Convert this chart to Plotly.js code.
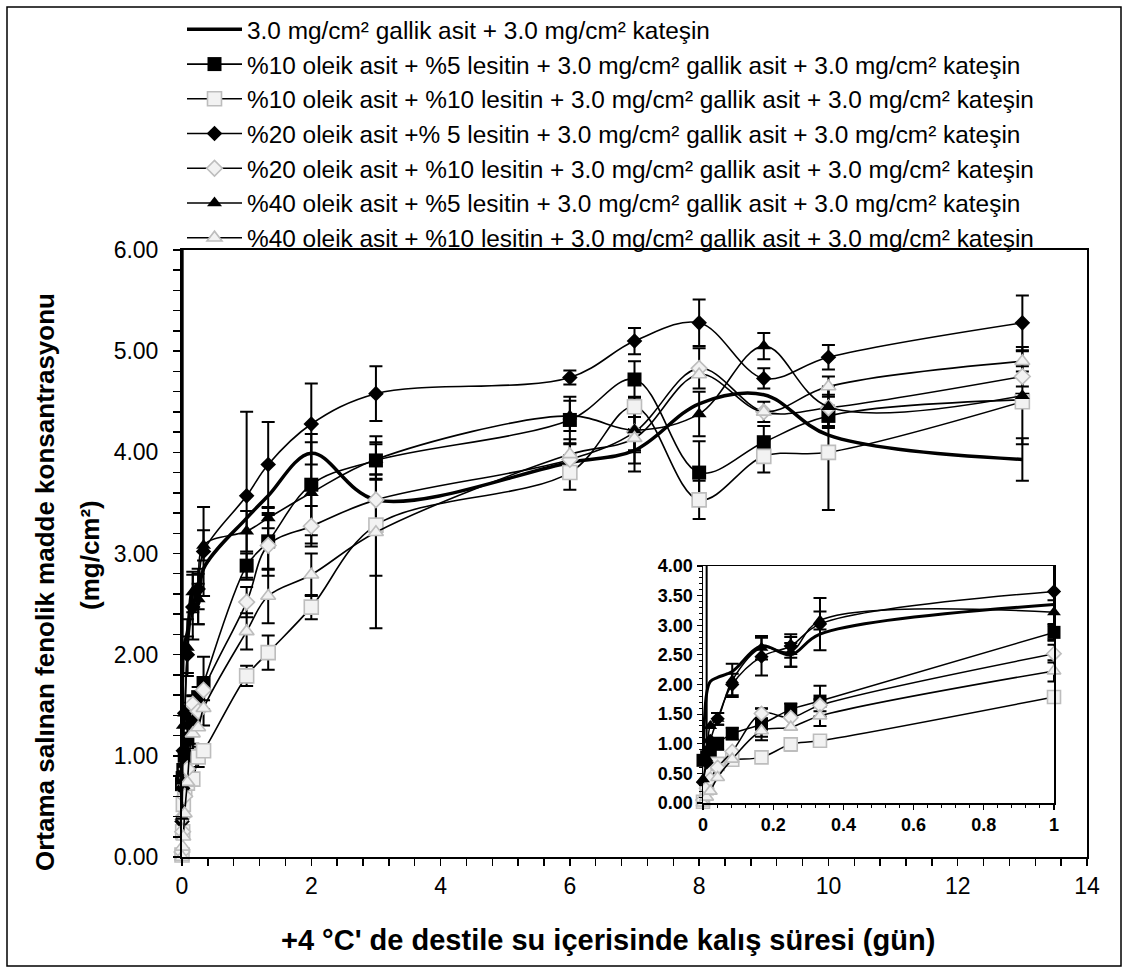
<!DOCTYPE html>
<html>
<head>
<meta charset="utf-8">
<script src="https://cdn.plot.ly/plotly-3.0.1.min.js"></script>
<style>html,body{margin:0;padding:0;background:#fff;}</style>
</head>
<body>
<div id="chart" style="width:1129px;height:974px;"></div>
<script>
// ---- data (days in distilled water at +4 °C) ----
const days = [0, 0.0104, 0.0208, 0.0417, 0.0833, 0.1667, 0.25, 0.3333, 1, 1.3333, 2, 3, 6, 7, 8, 9, 10, 13];

const seriesNames = [
  "3.0 mg/cm² gallik asit + 3.0 mg/cm² kateşin",
  "%10 oleik asit + %5 lesitin + 3.0 mg/cm² gallik asit + 3.0 mg/cm² kateşin",
  "%10 oleik asit + %10 lesitin + 3.0 mg/cm² gallik asit + 3.0 mg/cm² kateşin",
  "%20 oleik asit +% 5 lesitin + 3.0 mg/cm² gallik asit + 3.0 mg/cm² kateşin",
  "%20 oleik asit + %10 lesitin + 3.0 mg/cm² gallik asit + 3.0 mg/cm² kateşin",
  "%40 oleik asit + %5 lesitin + 3.0 mg/cm² gallik asit + 3.0 mg/cm² kateşin",
  "%40 oleik asit + %10 lesitin + 3.0 mg/cm² gallik asit + 3.0 mg/cm² kateşin"
];

const gallikKatesin   = [0.70, 1.85, 2.05, 2.12, 2.22, 2.65, 2.50, 2.85, 3.35, 3.57, 3.99, 3.53, 3.90, 4.02, 4.48, 4.57, 4.17, 3.93];
const gallikKatesinSd = [0.15, 4.30, 0, 0, 0, 0, 0.20, 0, 0, 0, 0, 0, 0, 0.21, 0, 0, 0, 0.21];

const ol10le5   = [0.72, 0.78, 0.86, 1.00, 1.17, 1.33, 1.58, 1.72, 2.88, 3.12, 3.68, 3.92, 4.32, 4.72, 3.80, 4.10, 4.36, 4.52];
const ol10le5Sd = [0, 0, 0, 0.10, 0.10, 0.27, 0.10, 0.26, 0.12, 0.28, 0.50, 0.18, 0.23, 0.18, 0.31, 0.16, 0.10, 0];

const ol10le10   = [0.02, 0.25, 0.52, 0.66, 0.73, 0.77, 0.99, 1.05, 1.79, 2.02, 2.47, 3.28, 3.80, 4.45, 3.53, 3.96, 4.00, 4.50];
const ol10le10Sd = [0, 0, 0, 0, 0, 0.05, 0.10, 0.05, 0.10, 0.17, 0.12, 0.50, 0.17, 0.10, 0.19, 0.16, 0.57, 0];

const ol20le5   = [0.35, 0.68, 1.05, 1.42, 2.00, 2.47, 2.65, 3.02, 3.57, 3.88, 4.28, 4.58, 4.74, 5.10, 5.28, 4.73, 4.94, 5.28];
const ol20le5Sd = [0, 0, 0, 0.10, 0.18, 0.32, 0.20, 0.44, 0.83, 0.42, 0.40, 0.27, 0.07, 0.13, 0.23, 0.10, 0.12, 0.27];

const ol20le10   = [0.05, 0.25, 0.40, 0.60, 0.87, 1.51, 1.44, 1.65, 2.52, 3.08, 3.27, 3.53, 3.93, 4.20, 4.83, 4.40, 4.44, 4.75];
const ol20le10Sd = [0, 0, 0, 0, 0, 0.08, 0, 0.10, 0.15, 0.30, 0.20, 0.20, 0.15, 0.20, 0.20, 0, 0.20, 0.10];

const ol40le5   = [0.40, 0.75, 1.30, 1.42, 2.07, 2.62, 2.55, 3.08, 3.22, 3.35, 3.60, 3.93, 4.36, 4.22, 4.38, 5.05, 4.45, 4.56];
const ol40le5Sd = [0, 0, 0, 0.10, 0.28, 0.20, 0.25, 0.15, 0.20, 0.10, 0.50, 0.15, 0.15, 0.20, 0.22, 0.13, 0.20, 0.48];

const ol40le10   = [0.00, 0.10, 0.20, 0.43, 0.74, 1.22, 1.28, 1.47, 2.23, 2.58, 2.79, 3.21, 3.98, 4.14, 4.77, 4.40, 4.65, 4.90];
const ol40le10Sd = [0, 0, 0, 0, 0, 0.10, 0, 0.17, 0.18, 0.27, 0.21, 0.95, 0.15, 0.25, 0, 0.10, 0.10, 0.10];

const xTitle = "+4 °C' de destile su içerisinde kalış süresi (gün)";
const yTitle1 = "Ortama salınan fenolik madde konsantrasyonu";
const yTitle2 = "(mg/cm²)";

// ---- styles ----
const FONT = 'Arial, "Liberation Sans", sans-serif';
const GRAYFILL = '#f2f2f2', GRAYLINE = '#bdbdbd';
const styles = [
  {vals: gallikKatesin, sd: gallikKatesinSd, mode: 'lines', width: 3.5, marker: null},
  {vals: ol10le5,  sd: ol10le5Sd,  mode: 'lines+markers', width: 1.6, marker: {symbol: 'square', size: 14, color: 'black'}},
  {vals: ol10le10, sd: ol10le10Sd, mode: 'lines+markers', width: 1.6, marker: {symbol: 'square', size: 14, color: GRAYFILL, line: {color: GRAYLINE, width: 1.6}}},
  {vals: ol20le5,  sd: ol20le5Sd,  mode: 'lines+markers', width: 1.6, marker: {symbol: 'diamond', size: 12, color: 'black'}},
  {vals: ol20le10, sd: ol20le10Sd, mode: 'lines+markers', width: 1.6, marker: {symbol: 'diamond', size: 12, color: GRAYFILL, line: {color: GRAYLINE, width: 1.6}}},
  {vals: ol40le5,  sd: ol40le5Sd,  mode: 'lines+markers', width: 1.6, marker: {symbol: 'triangle-up', size: 13, color: 'black'}},
  {vals: ol40le10, sd: ol40le10Sd, mode: 'lines+markers', width: 1.6, marker: {symbol: 'triangle-up', size: 13, color: GRAYFILL, line: {color: GRAYLINE, width: 1.6}}}
];

const traces = [];
const noZero = a => a.map(v => (v > 0 ? v : NaN));

// error bars (clipped) on base axes: main (x,y) and inset (x2,y2)
[['x', 'y'], ['x2', 'y2']].forEach(([xa, ya]) => {
  styles.forEach(s => {
    traces.push({
      x: days, y: s.vals, xaxis: xa, yaxis: ya, type: 'scatter', mode: 'markers',
      marker: {size: 2, opacity: 0}, showlegend: false, hoverinfo: 'skip',
      error_y: {type: 'data', array: noZero(s.sd), visible: true, color: 'black', thickness: 2, width: 6.5}
    });
  });
});

// visible lines+markers on overlay axes (markers not clipped)
styles.forEach((s, i) => {
  const t = {
    x: days, y: s.vals, xaxis: 'x3', yaxis: 'y3', type: 'scatter', mode: s.mode,
    name: seriesNames[i], cliponaxis: false,
    line: {color: 'black', width: s.width, shape: 'spline', smoothing: 1}
  };
  if (s.marker) t.marker = s.marker;
  traces.push(t);
});
styles.forEach((s, i) => {
  const keep = days.map((d, j) => j).filter(j => days[j] <= 1);
  const t = {
    x: keep.map(j => days[j]), y: keep.map(j => s.vals[j]), xaxis: 'x4', yaxis: 'y4', type: 'scatter', mode: s.mode,
    name: seriesNames[i], cliponaxis: false, showlegend: false,
    line: {color: 'black', width: s.width === 3.5 ? 3 : 1.5, shape: 'spline', smoothing: 1}
  };
  if (s.marker) t.marker = Object.assign({}, s.marker, {size: s.marker.size - 1});
  traces.push(t);
});

// ---- layout ----
const L = 182, R = 1087, T = 250, B = 857, W = 1129, H = 974;
const pw = R - L, ph = B - T;
const px = v => (v - L) / pw, py = v => (B - v) / ph;
const inX = [px(703), px(1054)], inY = [py(803), py(566)];

const mainAxis = {
  showline: true, linecolor: 'black', linewidth: 2, mirror: true,
  ticks: 'outside', ticklen: 7, tickwidth: 1.5, tickcolor: 'black',
  showgrid: false, zeroline: false, tickfont: {family: FONT, size: 23, color: 'black'}
};
const insetAxis = {
  showline: true, linecolor: 'black', linewidth: 1.5, mirror: true,
  ticks: 'outside', ticklen: 5, tickwidth: 1.2, tickcolor: 'black',
  showgrid: false, zeroline: false, tickfont: {family: FONT, size: 18, color: 'black', weight: 'bold'}
};
const titleFont = size => ({family: FONT, size: size, color: 'black', weight: 'bold'});

const layout = {
  width: W, height: H,
  margin: {l: L, r: W - R, t: T, b: H - B, autoexpand: false},
  paper_bgcolor: 'white', plot_bgcolor: 'white',
  font: {family: FONT, color: 'black'},
  showlegend: true,
  legend: {x: 0, xanchor: 'left', y: py(7), yanchor: 'top', bgcolor: 'rgba(0,0,0,0)',
           font: {family: FONT, size: 24.4, color: 'black'}, itemwidth: 55, tracegroupgap: 0},
  xaxis: Object.assign({}, mainAxis, {
    domain: [0, 1], anchor: 'y', range: [0, 14], autorange: false, dtick: 2, tick0: 0,
    minor: {dtick: 0.4, ticks: 'outside', ticklen: 7, tickwidth: 1.5, tickcolor: 'black', showgrid: false}
  }),
  yaxis: Object.assign({}, mainAxis, {
    domain: [0, 1], anchor: 'x', range: [0, 6], autorange: false, dtick: 1, tick0: 0, tickformat: '.2f',
    ticklabelstandoff: 10,
    minor: {dtick: 0.2, ticks: 'outside', ticklen: 7, tickwidth: 1.5, tickcolor: 'black', showgrid: false}
  }),
  xaxis3: {domain: [0, 1], anchor: 'y3', overlaying: 'x', range: [0, 14], autorange: false, visible: false},
  yaxis3: {domain: [0, 1], anchor: 'x3', overlaying: 'y', range: [0, 6], autorange: false, visible: false},
  xaxis2: Object.assign({}, insetAxis, {
    domain: inX, anchor: 'y2', range: [0, 1], autorange: false, dtick: 0.2, tick0: 0,
    minor: {dtick: 0.04, ticks: 'outside', ticklen: 3, tickwidth: 1, tickcolor: 'black', showgrid: false}
  }),
  yaxis2: Object.assign({}, insetAxis, {
    domain: inY, anchor: 'x2', range: [0, 4], autorange: false, dtick: 0.5, tick0: 0, tickformat: '.2f',
    minor: {dtick: 0.1, ticks: 'outside', ticklen: 3, tickwidth: 1, tickcolor: 'black', showgrid: false}
  }),
  xaxis4: {domain: inX, anchor: 'y4', overlaying: 'x2', range: [0, 1], autorange: false, visible: false},
  yaxis4: {domain: inY, anchor: 'x4', overlaying: 'y2', range: [0, 4], autorange: false, visible: false},
  annotations: [
    {text: xTitle, xref: 'paper', yref: 'paper', x: px(608), y: py(940), xanchor: 'center', yanchor: 'middle',
     showarrow: false, font: titleFont(29)},
    {text: yTitle1, xref: 'paper', yref: 'paper', x: px(45), y: py(582), xanchor: 'center', yanchor: 'middle',
     textangle: -90, showarrow: false, font: titleFont(26)},
    {text: yTitle2, xref: 'paper', yref: 'paper', x: px(90), y: py(555), xanchor: 'center', yanchor: 'middle',
     textangle: -90, showarrow: false, font: titleFont(26)}
  ],
  shapes: [{type: 'rect', xref: 'paper', yref: 'paper',
            x0: px(7), x1: px(1121), y0: py(966), y1: py(7),
            line: {color: 'black', width: 1.5}, fillcolor: 'rgba(0,0,0,0)', layer: 'below'}]
};

Plotly.newPlot('chart', traces, layout, {displayModeBar: false, staticPlot: true});
</script>
</body>
</html>
